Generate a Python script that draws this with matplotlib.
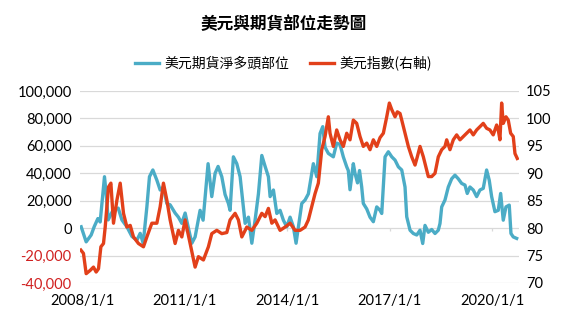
import matplotlib
matplotlib.use("Agg")
import matplotlib.pyplot as plt
import matplotlib.dates as mdates
import pandas as pd
import numpy as np

plt.rcParams['font.family'] = ['Noto Sans CJK TC', 'DejaVu Sans']

title = "美元與期貨部位走勢圖"
label_pos = "美元期貨淨多頭部位"
label_dxy = "美元指數(右軸)"

# Net long position (left axis), time as decimal years
pos_t = [2007.971, 2008.117, 2008.263, 2008.351, 2008.459, 2008.526, 2008.605, 2008.652, 2008.702, 2008.760,
         2008.898, 2009.053, 2009.161, 2009.307, 2009.453, 2009.599, 2009.696, 2009.784, 2009.892, 2009.968,
         2010.067, 2010.184, 2010.281, 2010.377, 2010.477, 2010.573, 2010.719, 2010.816, 2010.915, 2011.012,
         2011.099, 2011.208, 2011.304, 2011.450, 2011.538, 2011.684, 2011.792, 2011.889, 2011.977, 2012.085,
         2012.181, 2012.278, 2012.327, 2012.424, 2012.523, 2012.620, 2012.766, 2012.863, 2012.962, 2013.058,
         2013.155, 2013.254, 2013.351, 2013.447, 2013.497, 2013.594, 2013.693, 2013.789, 2013.886, 2013.985,
         2014.082, 2014.178, 2014.257, 2014.325, 2014.424, 2014.520, 2014.617, 2014.667, 2014.763, 2014.863,
         2014.959, 2015.038, 2015.105, 2015.202, 2015.348, 2015.447, 2015.544, 2015.640, 2015.740, 2015.786,
         2015.836, 2015.933, 2015.982, 2016.056, 2016.114, 2016.178, 2016.225, 2016.325, 2016.421, 2016.518,
         2016.617, 2016.713, 2016.763, 2016.860, 2016.956, 2017.056, 2017.152, 2017.249, 2017.348, 2017.444,
         2017.494, 2017.591, 2017.687, 2017.787, 2017.883, 2017.962, 2018.029, 2018.126, 2018.225, 2018.322,
         2018.418, 2018.468, 2018.518, 2018.614, 2018.711, 2018.810, 2018.906, 2019.003, 2019.102, 2019.199,
         2019.266, 2019.345, 2019.442, 2019.541, 2019.637, 2019.734, 2019.833, 2019.909, 2019.980, 2020.076,
         2020.173, 2020.243, 2020.319, 2020.398, 2020.494, 2020.544, 2020.611, 2020.711]
pos_v = [1000, -10000, -5000, 1000, 7000, 4500, 25000, 37500, 25000, 6000,
         13000, 14600, 6000, 1000, -6000, -8800, -3800, -11000, 15500, 37500,
         42400, 35000, 27800, 30000, 18000, 17000, 11000, 8000, 3500, 11000,
         1000, -11000, -6400, 13000, 5800, 47000, 23000, 40000, 45000, 37500,
         24500, 18000, 13000, 52000, 47000, 37500, 3500, 8000, -11000, 6000,
         25000, 53000, 45000, 37500, 23000, 27800, 10700, 13000, 5800, 1000,
         8000, 1000, -11000, 1000, 18000, 20500, 25000, 32600, 47000, 37500,
         69000, 74000, 59000, 54500, 52000, 62000, 61000, 52000, 44700, 42000,
         28000, 47000, 40000, 33000, 42000, 30000, 18000, 14000, 8000, 4700,
         15500, 13000, 10700, 52000, 55700, 52000, 49600, 44700, 42400, 30000,
         8300, -1500, -3900, -5000, -1500, -11200, 2000, -3000, -1000, -3900,
         -1500, 3400, 15500, 20500, 30000, 36000, 38600, 36000, 32600, 31400,
         25300, 30000, 27800, 23000, 27800, 29000, 42400, 35000, 23000, 12000,
         13000, 25300, 5800, 15500, 16800, -3900, -6400, -7500]

# Dollar index (right axis)
dxy_t = [2007.962, 2008.038, 2008.117, 2008.234, 2008.330, 2008.409, 2008.477, 2008.547, 2008.623, 2008.673,
         2008.769, 2008.839, 2008.915, 2009.015, 2009.111, 2009.208, 2009.307, 2009.404, 2009.500, 2009.646,
         2009.792, 2009.892, 2010.038, 2010.184, 2010.281, 2010.377, 2010.477, 2010.573, 2010.719, 2010.816,
         2010.915, 2011.012, 2011.158, 2011.304, 2011.401, 2011.547, 2011.693, 2011.792, 2011.939, 2012.085,
         2012.231, 2012.327, 2012.474, 2012.570, 2012.670, 2012.816, 2012.962, 2013.108, 2013.254, 2013.351,
         2013.447, 2013.547, 2013.643, 2013.789, 2013.936, 2014.082, 2014.228, 2014.374, 2014.520, 2014.617,
         2014.716, 2014.813, 2014.909, 2015.009, 2015.105, 2015.202, 2015.251, 2015.348, 2015.447, 2015.544,
         2015.640, 2015.740, 2015.836, 2015.933, 2016.032, 2016.129, 2016.225, 2016.325, 2016.421, 2016.518,
         2016.617, 2016.713, 2016.810, 2016.909, 2016.985, 2017.056, 2017.152, 2017.219, 2017.298, 2017.348,
         2017.444, 2017.541, 2017.640, 2017.737, 2017.804, 2017.883, 2017.980, 2018.079, 2018.126, 2018.225,
         2018.322, 2018.418, 2018.518, 2018.614, 2018.664, 2018.760, 2018.857, 2018.956, 2019.053, 2019.149,
         2019.249, 2019.345, 2019.442, 2019.541, 2019.637, 2019.734, 2019.833, 2019.930, 2020.026, 2020.126,
         2020.173, 2020.222, 2020.272, 2020.319, 2020.398, 2020.465, 2020.535, 2020.611, 2020.661, 2020.728]
dxy_v = [76.0, 75.4, 71.7, 72.3, 72.9, 72.0, 72.6, 76.6, 77.2, 80.2,
         87.5, 88.2, 80.9, 85.1, 88.2, 82.7, 80.2, 80.5, 78.4, 77.2,
         76.6, 78.4, 80.9, 80.9, 83.9, 88.2, 85.1, 81.5, 77.2, 79.6,
         78.4, 81.5, 77.2, 72.9, 74.8, 74.2, 76.6, 79.0, 79.6, 79.0,
         79.2, 81.5, 82.7, 81.5, 78.4, 80.2, 79.6, 80.9, 82.7, 82.1,
         83.6, 80.9, 81.5, 79.6, 80.2, 80.9, 79.6, 79.6, 80.2, 81.5,
         83.9, 86.3, 88.2, 94.3, 96.7, 100.3, 97.3, 94.9, 97.9, 96.1,
         94.9, 97.3, 96.1, 99.7, 99.1, 96.7, 94.9, 95.5, 94.3, 96.1,
         94.9, 96.5, 97.3, 100.3, 102.8, 101.6, 100.3, 101.2, 100.9, 99.7,
         97.3, 94.9, 93.0, 91.5, 93.0, 94.9, 93.0, 90.6, 89.4, 89.4,
         90.0, 93.0, 94.3, 94.9, 96.1, 94.3, 96.1, 97.0, 96.1, 96.7,
         97.3, 97.9, 97.0, 97.9, 98.5, 99.1, 98.2, 97.9, 97.0, 98.8,
         97.9, 96.1, 102.8, 99.1, 100.3, 99.7, 97.3, 96.7, 93.6, 92.7]

x_tick_labels = ["2008/1/1", "2011/1/1", "2014/1/1", "2017/1/1", "2020/1/1"]
left_ticks = [-40000, -20000, 0, 20000, 40000, 60000, 80000, 100000]
right_ticks = [70, 75, 80, 85, 90, 95, 100, 105]


def to_dates(dec):
    out = []
    for d in dec:
        y = int(np.floor(d))
        start = pd.Timestamp(year=y, month=1, day=1)
        end = pd.Timestamp(year=y + 1, month=1, day=1)
        out.append(start + (end - start) * (d - y))
    return out


teal = "#4BACC6"
red = "#E2401A"
grid_c = "#D9D9D9"
num_font = ['Lato', 'DejaVu Sans']

fig = plt.figure(figsize=(5.67, 3.28), dpi=100)
ax = fig.add_axes([80 / 567, 1 - 283 / 328, (519 - 80) / 567, (283 - 91) / 328])
ax2 = ax.twinx()

l1, = ax.plot(to_dates(pos_t), pos_v, color=teal, lw=2.4, solid_joinstyle='round', label=label_pos)
l2, = ax2.plot(to_dates(dxy_t), dxy_v, color=red, lw=2.4, solid_joinstyle='round', label=label_dxy)

ax.set_ylim(-40000, 100000)
ax2.set_ylim(70, 105)
ax.set_yticks(left_ticks)
ax2.set_yticks(right_ticks)
ax.set_yticklabels([f"{v:,}" for v in left_ticks], family=num_font, fontsize=10.5)
for lab, v in zip(ax.get_yticklabels(), left_ticks):
    if v < 0:
        lab.set_color("#D02020")
ax2.set_yticklabels([str(v) for v in right_ticks], family=num_font, fontsize=10.5)

xmin = pd.Timestamp("2007-12-09")
xmax = pd.Timestamp("2020-10-12")
ax.set_xlim(xmin, xmax)
xt = [pd.Timestamp(f"{lbl.split('/')[0]}-01-01") for lbl in x_tick_labels]
ax.set_xticks(xt)
ax.set_xticklabels(x_tick_labels, family=num_font, fontsize=10.5)

ax.grid(axis='y', color=grid_c, lw=0.9)
ax.set_axisbelow(True)
for a in (ax, ax2):
    for s in a.spines.values():
        s.set_visible(False)
ax.tick_params(axis='both', length=0)
ax.tick_params(axis='y', pad=6)
ax.tick_params(axis='x', pad=8)
ax2.tick_params(axis='y', length=0, pad=5)

# small tick marks on the zero line
ax.vlines(xt, -1800, 0, color=grid_c, lw=0.9, zorder=1)

fig.text(0.5, 1 - 24 / 328, title, ha='center', va='center', fontsize=12, fontweight='bold')
fig.legend(handles=[l1, l2], loc='center', bbox_to_anchor=(0.5, 1 - 63 / 328), ncol=2,
           frameon=False, fontsize=10, handlelength=1.7, columnspacing=1.5, handletextpad=0.4)

fig.savefig("out.png", dpi=100)
